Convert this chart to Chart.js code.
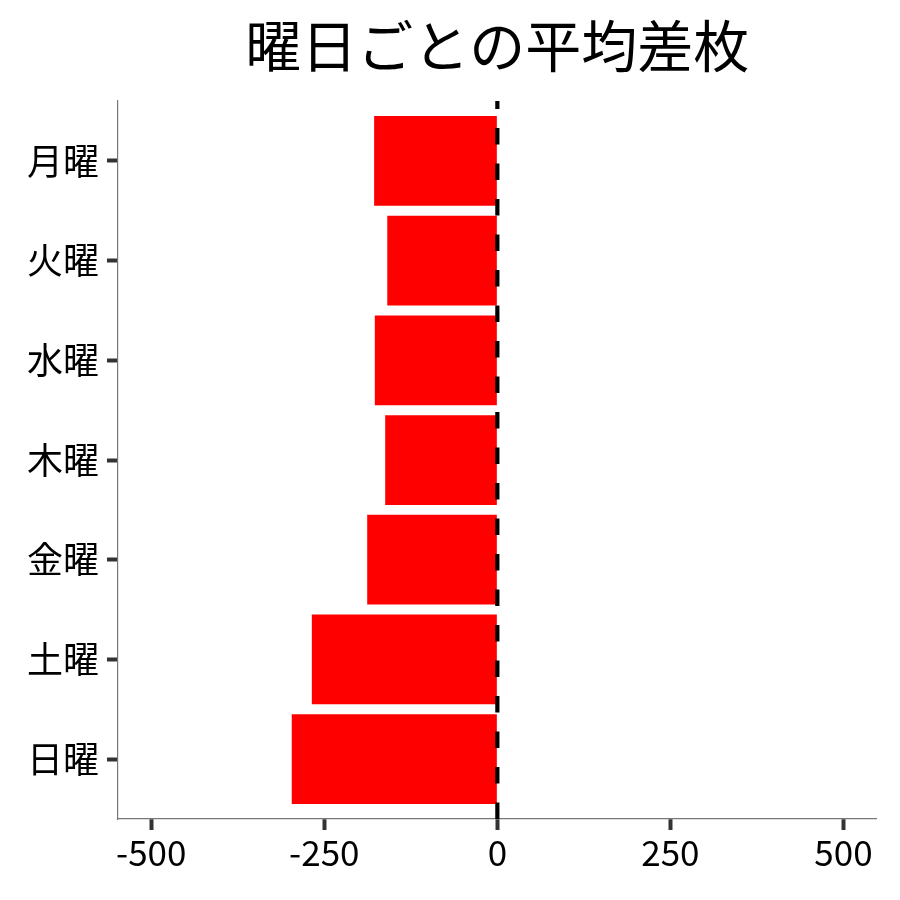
<!DOCTYPE html>
<html>
<head>
<meta charset="utf-8">
<script src="https://cdn.jsdelivr.net/npm/chart.js@4/dist/chart.umd.min.js"></script>
<style>
  html, body { margin: 0; padding: 0; background: #fff; }
  #wrap { width: 900px; height: 900px; }
</style>
</head>
<body>
<div id="wrap"><canvas id="c" width="900" height="900"></canvas></div>
<script>
const titleText = '曜日ごとの平均差枚';
const days = ['月曜', '火曜', '水曜', '木曜', '金曜', '土曜', '日曜'];
const diffValues = [-178, -159, -177, -162, -188, -268, -297];
const xTicks = [-500, -250, 0, 250, 500];
const refValue = 0;

const FONT = '"Noto Sans CJK JP", "Noto Sans", sans-serif';

const titlePlugin = {
  id: 'customTitle',
  afterDraw(chart) {
    const ctx = chart.ctx;
    const a = chart.chartArea;
    ctx.save();
    ctx.font = '56px ' + FONT;
    ctx.fillStyle = '#000';
    ctx.textAlign = 'center';
    ctx.textBaseline = 'middle';
    ctx.fillText(titleText, (a.left + a.right) / 2, 46);
    ctx.restore();
  }
};

const refLinePlugin = {
  id: 'refLine',
  afterDatasetsDraw(chart) {
    const ctx = chart.ctx;
    const a = chart.chartArea;
    const x = chart.scales.x.getPixelForValue(refValue);
    ctx.save();
    ctx.beginPath();
    ctx.rect(a.left, a.top, a.right - a.left, a.bottom - a.top);
    ctx.clip();
    ctx.strokeStyle = '#000';
    ctx.lineWidth = 4.2;
    ctx.lineCap = 'butt';
    ctx.setLineDash([16.5, 19]);
    ctx.beginPath();
    ctx.moveTo(x, a.bottom);
    ctx.lineTo(x, a.top);
    ctx.stroke();
    ctx.restore();
  }
};

new Chart(document.getElementById('c'), {
  type: 'bar',
  data: {
    datasets: [{
      data: diffValues.map((v, i) => ({ x: v, y: i })),
      backgroundColor: '#ff0000',
      borderWidth: 0,
      barPercentage: 0.9,
      categoryPercentage: 1.0
    }]
  },
  options: {
    indexAxis: 'y',
    responsive: false,
    animation: false,
    devicePixelRatio: 1,
    layout: { padding: { left: 0, top: 101, right: 23.3, bottom: 0 } },
    plugins: {
      legend: { display: false },
      tooltip: { enabled: false },
      title: { display: false }
    },
    scales: {
      x: {
        type: 'linear',
        min: -548,
        max: 548,
        offset: false,
        afterBuildTicks: s => { s.ticks = xTicks.map(v => ({ value: v })); },
        afterFit: s => { s.height = 81; },
        grid: {
          offset: false,
          drawOnChartArea: false,
          drawTicks: true,
          tickLength: 11,
          tickWidth: 4,
          tickColor: '#333'
        },
        border: { display: true, color: '#777', width: 1.2 },
        ticks: {
          font: { family: FONT, size: 35 },
          color: '#000',
          padding: 2,
          maxRotation: 0,
          callback: v => String(v)
        }
      },
      y: {
        type: 'linear',
        reverse: true,
        offset: false,
        min: -0.6,
        max: 6.6,
        afterBuildTicks: s => { s.ticks = days.map((_, i) => ({ value: i })); },
        afterFit: s => { s.width = 118; },
        grid: {
          offset: false,
          drawOnChartArea: false,
          drawTicks: true,
          tickLength: 11,
          tickWidth: 4,
          tickColor: '#333'
        },
        border: { display: true, color: '#777', width: 1.2 },
        ticks: {
          font: { family: FONT, size: 36 },
          color: '#000',
          padding: 8,
          callback: v => days[v]
        }
      }
    }
  },
  plugins: [titlePlugin, refLinePlugin]
});
</script>
</body>
</html>
